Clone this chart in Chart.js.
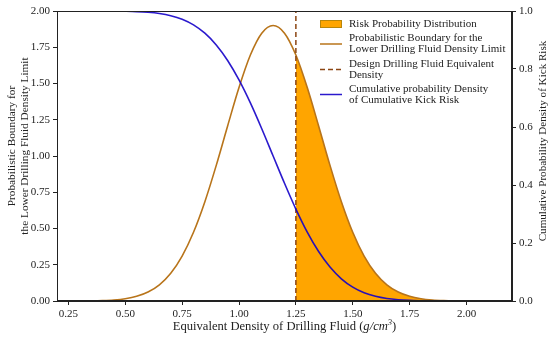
<!DOCTYPE html>
<html>
<head>
<meta charset="utf-8">
<script src="https://cdn.jsdelivr.net/npm/chart.js@4.4.0/dist/chart.umd.min.js"></script>
<style>
  html, body { margin: 0; padding: 0; background: #fff; }
  #wrap { width: 550px; height: 338px; }
</style>
</head>
<body>
<div id="wrap"><canvas id="kickRisk"></canvas></div>
<script>
// values
const densityX = [0.20, 0.25, 0.30, 0.35, 0.40, 0.45, 0.50, 0.55, 0.60, 0.65, 0.70,
  0.75, 0.80, 0.85, 0.90, 0.95, 1.00, 1.05, 1.10, 1.15, 1.20, 1.25, 1.30, 1.35, 1.40,
  1.45, 1.50, 1.55, 1.60, 1.65, 1.70, 1.75, 1.80, 1.85, 1.90, 1.95, 2.00, 2.05, 2.10,
  2.15, 2.20];
const boundaryPdf = [0.0001, 0.0002, 0.0005, 0.0013, 0.0032, 0.0073, 0.0158, 0.0321,
  0.0616, 0.1117, 0.1913, 0.3097, 0.4739, 0.6850, 0.9354, 1.2073, 1.4721, 1.6963,
  1.8470, 1.9000, 1.8470, 1.6963, 1.4721, 1.2073, 0.9354, 0.6850, 0.4739, 0.3097,
  0.1913, 0.1117, 0.0616, 0.0321, 0.0158, 0.0073, 0.0032, 0.0013, 0.0005, 0.0002,
  0.0001, 0.0000, 0.0000];
const cumulativeRisk = [1.0000, 1.0000, 1.0000, 0.9999, 0.9998, 0.9996, 0.9990, 0.9979,
  0.9956, 0.9914, 0.9839, 0.9716, 0.9522, 0.9234, 0.8830, 0.8295, 0.7624, 0.6831,
  0.5941, 0.5000, 0.4059, 0.3169, 0.2376, 0.1705, 0.1170, 0.0766, 0.0478, 0.0284,
  0.0161, 0.0086, 0.0044, 0.0021, 0.0010, 0.0004, 0.0002, 0.0001, 0.0000, 0.0000,
  0.0000, 0.0000, 0.0000];
const designDensity = 1.25;
const xTicks = [0.25, 0.50, 0.75, 1.00, 1.25, 1.50, 1.75, 2.00];

const legendLabels = [
  ['Risk Probability Distribution'],
  ['Probabilistic Boundary for the', 'Lower Drilling Fluid Density Limit'],
  ['Design Drilling Fluid Equivalent', 'Density'],
  ['Cumulative probability Density', 'of Cumulative Kick Risk']
];
const leftTitle = ['Probabilistic Boundary for', 'the Lower Drilling Fluid Density Limit'];
const rightTitle = 'Cumulative Probability Density of Kick Risk';

const FONT = '"Liberation Serif", "DejaVu Serif", serif';
const ORANGE = '#ffa500';
const PDF_LINE = '#b8741a';
const DASH_LINE = '#8b4513';
const BLUE = 'rgba(20, 0, 200, 0.9)';

const pdfPts = densityX.map((x, i) => ({ x: x, y: boundaryPdf[i] }));
const riskPts = densityX.map((x, i) => ({ x: x, y: cumulativeRisk[i] }));
const fillPts = pdfPts.filter(p => p.x >= designDensity);

function vText(ctx, text, x, y) {
  ctx.save();
  ctx.translate(x, y);
  ctx.rotate(-Math.PI / 2);
  ctx.fillText(text, 0, 0);
  ctx.restore();
}

// frame, legend and axis titles
const decorations = {
  id: 'decorations',
  afterDraw(chart) {
    const { ctx, chartArea: a } = chart;
    ctx.save();
    ctx.strokeStyle = '#222';
    ctx.lineWidth = 1;
    ctx.strokeRect(a.left + 0.5, a.top + 0.5, a.right - a.left - 1, a.bottom - a.top - 1);

    // legend
    const sx = a.right - 192, sw = 22, tx = a.right - 163;
    const rows = [24, 38.5, 64, 89];
    ctx.font = '11px ' + FONT;
    ctx.fillStyle = '#222';
    ctx.textBaseline = 'middle';
    ctx.textAlign = 'left';
    legendLabels.forEach((lines, i) => {
      const y0 = rows[i];
      lines.forEach((t, j) => ctx.fillText(t, tx, y0 + j * 11));
      const my = y0 + (lines.length - 1) * 5.5;
      ctx.setLineDash([]);
      if (i === 0) {
        ctx.fillStyle = ORANGE;
        ctx.fillRect(sx, my - 3.5, sw, 7);
        ctx.strokeStyle = '#b8860b';
        ctx.strokeRect(sx + 0.5, my - 3.5, sw - 1, 7);
        ctx.fillStyle = '#222';
      } else {
        ctx.beginPath();
        ctx.lineWidth = 1.5;
        if (i === 1) ctx.strokeStyle = PDF_LINE;
        if (i === 2) { ctx.strokeStyle = DASH_LINE; ctx.setLineDash([5, 3]); }
        if (i === 3) ctx.strokeStyle = BLUE;
        ctx.moveTo(sx, my);
        ctx.lineTo(sx + sw, my);
        ctx.stroke();
      }
    });
    ctx.setLineDash([]);

    // y titles
    ctx.textAlign = 'center';
    ctx.font = '11.3px ' + FONT;
    vText(ctx, leftTitle[0], 12, 146);
    vText(ctx, leftTitle[1], 25, 146);
    ctx.font = '11.1px ' + FONT;
    vText(ctx, rightTitle, 543, 141);

    // x title (unit in italics)
    ctx.textAlign = 'left';
    const parts = [
      ['Equivalent Density of Drilling Fluid (', '12.6px ' + FONT],
      ['g/cm', 'italic 12.6px ' + FONT],
      ['3', 'italic 8.5px ' + FONT],
      [')', '12.6px ' + FONT]
    ];
    let total = 0;
    parts.forEach(p => { ctx.font = p[1]; total += ctx.measureText(p[0]).width; });
    let x = (a.left + a.right) / 2 - total / 2;
    const ty = 327;
    parts.forEach(p => {
      ctx.font = p[1];
      ctx.fillText(p[0], x, p[0] === '3' ? ty - 4 : ty);
      x += ctx.measureText(p[0]).width;
    });
    ctx.restore();
  }
};

new Chart(document.getElementById('kickRisk'), {
  type: 'line',
  data: {
    datasets: [{
      label: legendLabels[3].join(' '),
      data: riskPts,
      yAxisID: 'y2',
      borderColor: BLUE,
      borderWidth: 1.6,
      pointRadius: 0,
      cubicInterpolationMode: 'monotone',
      order: 1
    }, {
      label: legendLabels[2].join(' '),
      data: [{ x: designDensity, y: 0 }, { x: designDensity, y: 2 }],
      yAxisID: 'y',
      borderColor: DASH_LINE,
      borderWidth: 1.5,
      borderDash: [5, 3],
      pointRadius: 0,
      order: 2
    }, {
      label: legendLabels[1].join(' '),
      data: pdfPts,
      yAxisID: 'y',
      borderColor: PDF_LINE,
      borderWidth: 1.6,
      pointRadius: 0,
      cubicInterpolationMode: 'monotone',
      order: 3
    }, {
      label: legendLabels[0].join(' '),
      data: fillPts,
      yAxisID: 'y',
      borderColor: 'rgba(0,0,0,0)',
      backgroundColor: ORANGE,
      fill: 'origin',
      pointRadius: 0,
      cubicInterpolationMode: 'monotone',
      order: 4
    }]
  },
  options: {
    responsive: true,
    maintainAspectRatio: false,
    animation: false,
    layout: { padding: { top: 11 } },
    plugins: {
      legend: { display: false },
      tooltip: { enabled: false }
    },
    scales: {
      x: {
        type: 'linear',
        min: 0.2,
        max: 2.2,
        afterBuildTicks: s => { s.ticks = xTicks.map(v => ({ value: v })); },
        afterFit: s => { s.height = 37; },
        grid: { drawOnChartArea: false, tickLength: 4, color: '#222' },
        border: { color: '#222' },
        ticks: {
          color: '#222',
          padding: 3,
          maxRotation: 0,
          font: { family: FONT, size: 11 },
          callback: v => v.toFixed(2)
        }
      },
      y: {
        position: 'left',
        min: 0,
        max: 2,
        afterFit: s => { s.width = 57; },
        grid: { drawOnChartArea: false, tickLength: 4, color: '#222' },
        border: { color: '#222' },
        ticks: {
          stepSize: 0.25,
          color: '#222',
          padding: 3,
          font: { family: FONT, size: 11 },
          callback: v => v.toFixed(2)
        }
      },
      y2: {
        position: 'right',
        min: 0,
        max: 1,
        afterFit: s => { s.width = 38; },
        grid: { drawOnChartArea: false, tickLength: 4, color: '#222' },
        border: { color: '#222' },
        ticks: {
          stepSize: 0.2,
          color: '#222',
          padding: 3,
          font: { family: FONT, size: 11 },
          callback: v => v.toFixed(1)
        }
      }
    }
  },
  plugins: [decorations]
});
</script>
</body>
</html>
